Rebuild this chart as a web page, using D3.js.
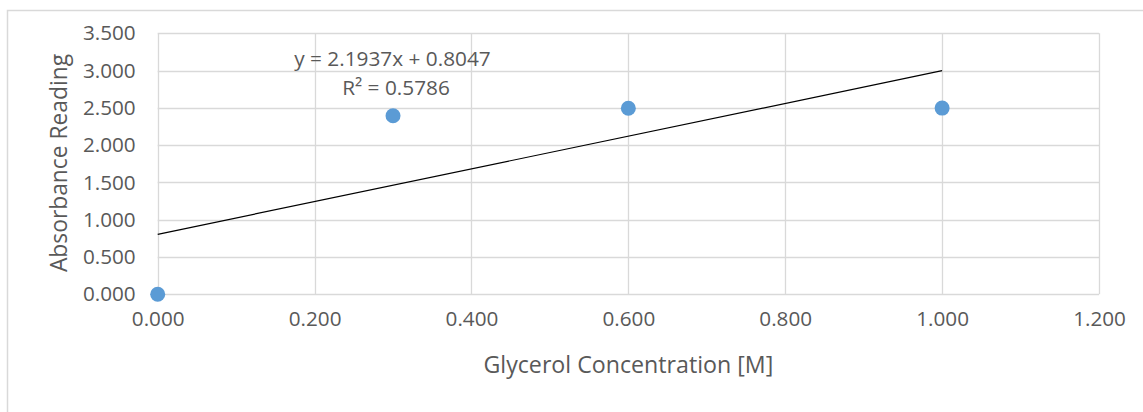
<!DOCTYPE html>
<html><head><meta charset="utf-8">
<script src="https://cdn.jsdelivr.net/npm/d3@7"></script>
<style>
html,body{margin:0;padding:0;background:#fff;}
svg{display:block;}
text{font-family:"Open Sans","Noto Sans",sans-serif;fill:#595959;}
</style></head>
<body>
<svg id="chart" width="1143" height="412"></svg>
<script>
const concentrations = [0.0, 0.3, 0.6, 1.0];
const absorbance = [0.0, 2.395, 2.495, 2.497];
const xTicks = [0, 0.2, 0.4, 0.6, 0.8, 1.0, 1.2];
const yTicks = [0, 0.5, 1.0, 1.5, 2.0, 2.5, 3.0, 3.5];
const trendSlope = 2.1937;
const trendIntercept = 0.8047;
const trendR2 = 0.5786;
const xTitle = "Glycerol Concentration [M]";
const yTitle = "Absorbance Reading";

const svg = d3.select("#chart");
const pLeft = 157.7, pRight = 1099, pTop = 33.3, pBottom = 294.3;
const x = d3.scaleLinear().domain([0, 1.2]).range([pLeft, pRight]);
const y = d3.scaleLinear().domain([0, 3.5]).range([pBottom, pTop]);
const grid = "#d9d9d9";

// outer chart border
svg.append("rect").attr("x", 7.5).attr("y", 10.5).attr("width", 1200).attr("height", 500)
  .attr("fill", "none").attr("stroke", grid).attr("stroke-width", 1.5);

// gridlines
svg.append("g").selectAll("line").data(yTicks).join("line")
  .attr("x1", pLeft).attr("x2", pRight)
  .attr("y1", d => Math.round(y(d)) + 0.5).attr("y2", d => Math.round(y(d)) + 0.5)
  .attr("stroke", grid).attr("stroke-width", 1.3);
svg.append("g").selectAll("line").data(xTicks).join("line")
  .attr("y1", pTop).attr("y2", pBottom)
  .attr("x1", d => Math.round(x(d)) + 0.5).attr("x2", d => Math.round(x(d)) + 0.5)
  .attr("stroke", grid).attr("stroke-width", 1.3);

// axes labels via d3 axes
const fmt = d3.format(".3f");
const yAxis = svg.append("g").attr("transform", `translate(${pLeft},0)`)
  .call(d3.axisLeft(y).tickValues(yTicks).tickFormat(fmt).tickSize(0).tickPadding(22));
const xAxis = svg.append("g").attr("transform", `translate(0,${pBottom})`)
  .call(d3.axisBottom(x).tickValues(xTicks).tickFormat(fmt).tickSize(0).tickPadding(17));
[yAxis, xAxis].forEach(a => {
  a.select(".domain").remove();
  a.selectAll("text").attr("font-size", 20.7).attr("fill", "#595959")
    .attr("font-family", '"Open Sans","Noto Sans",sans-serif');
});

// trendline
svg.append("line")
  .attr("x1", x(0)).attr("y1", y(trendIntercept))
  .attr("x2", x(1.0)).attr("y2", y(trendSlope * 1.0 + trendIntercept))
  .attr("stroke", "#000").attr("stroke-width", 1.2);

// points
svg.append("g").selectAll("circle").data(concentrations).join("circle")
  .attr("cx", d => x(d)).attr("cy", (d, i) => y(absorbance[i]))
  .attr("r", 7.5).attr("fill", "#5B9BD5");

// equation labels
svg.append("text").attr("x", 392.5).attr("y", 65.5).attr("text-anchor", "middle")
  .attr("font-size", 20.8).text(`y = ${trendSlope}x + ${trendIntercept}`);
svg.append("text").attr("x", 396).attr("y", 95).attr("text-anchor", "middle")
  .attr("font-size", 20.8).text(`R² = ${trendR2}`);

// titles
svg.append("text").attr("x", (pLeft + pRight) / 2).attr("y", 373).attr("text-anchor", "middle")
  .attr("font-size", 23.2).text(xTitle);
svg.append("text").attr("transform", "translate(67,163) rotate(-90)").attr("text-anchor", "middle")
  .attr("font-size", 22.8).text(yTitle);
</script>
</body></html>
